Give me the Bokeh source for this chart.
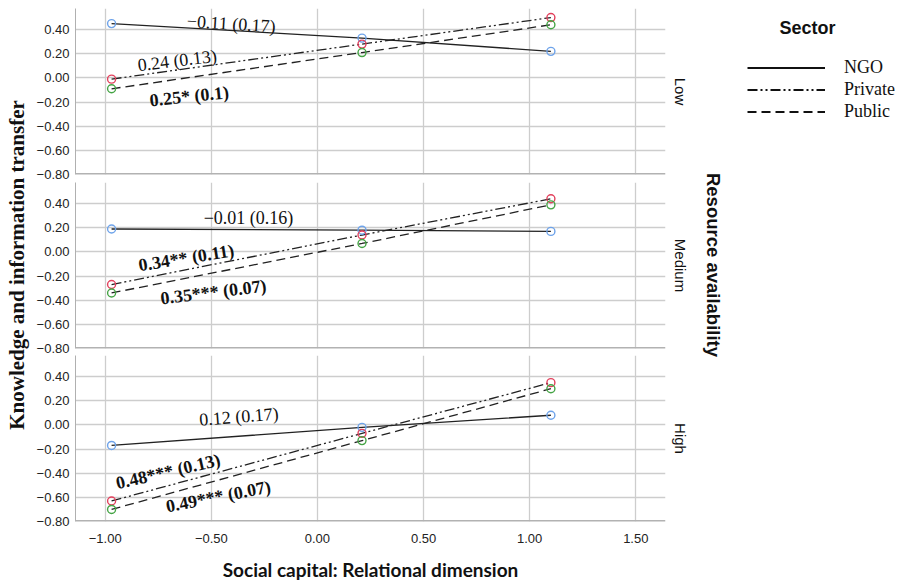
import math
from bokeh.plotting import figure
from bokeh.layouts import row, column
from bokeh.models import (Range1d, FixedTicker, CustomJSTickFormatter, Label, Span,
                          Legend, LegendItem)
from bokeh.embed import file_html
from bokeh.resources import INLINE

# ---------------- data ----------------
x_levels = [-0.97, 0.21, 1.10]          # relational dimension (low / mean / high)
sectors = ["NGO", "Private", "Public"]
panels = ["Low", "Medium", "High"]        # resource availability

ngo_low = [0.45, 0.33, 0.22]
private_low = [-0.01, 0.28, 0.50]
public_low = [-0.09, 0.21, 0.44]

ngo_medium = [0.19, 0.18, 0.17]
private_medium = [-0.27, 0.14, 0.44]
public_medium = [-0.34, 0.07, 0.39]

ngo_high = [-0.17, -0.02, 0.08]
private_high = [-0.63, -0.07, 0.35]
public_high = [-0.70, -0.13, 0.30]

slopes_low = ["\u22120.11 (0.17)", "0.24 (0.13)", "0.25* (0.1)"]
slopes_medium = ["\u22120.01 (0.16)", "0.34** (0.11)", "0.35*** (0.07)"]
slopes_high = ["0.12 (0.17)", "0.48*** (0.13)", "0.49*** (0.07)"]

x_ticks = [-1.0, -0.5, 0.0, 0.5, 1.0, 1.5]
y_ticks = [-0.8, -0.6, -0.4, -0.2, 0.0, 0.2, 0.4]

x_title = "Social capital: Relational dimension"
y_title = "Knowledge and information transfer"
facet_title = "Resource availability"
legend_title = "Sector"

values = {
    "Low": {"NGO": ngo_low, "Private": private_low, "Public": public_low},
    "Medium": {"NGO": ngo_medium, "Private": private_medium, "Public": public_medium},
    "High": {"NGO": ngo_high, "Private": private_high, "Public": public_high},
}
slope_texts = {"Low": slopes_low, "Medium": slopes_medium, "High": slopes_high}

# ---------------- layout / style ----------------
X_MIN, X_MAX = -1.14, 1.64
Y_MIN, Y_MAX = -0.80, 0.575
FRAME_W = 590
FRAME_H = 166
TOP = 8
BOTTOM = [8, 7, 62]
LEFT_B, RIGHT_B = 43, 5
LEFT_STRIP_W, RIGHT_STRIP_W = 32, 227
TOTAL_H = TOP + 3 * FRAME_H + sum(BOTTOM)

style = {
    "NGO": dict(dash="solid", color="#6ea3ea"),
    "Private": dict(dash="10 3 2 3 2 3", color="#e2405c"),
    "Public": dict(dash="9 5", color="#45a445"),
}
# annotation placement (x, y, angle in degrees, bold)
annot_pos = {
    "Low": [(-0.406, 0.448, -3.5, False), (-0.661, 0.144, 7, False), (-0.604, -0.152, 6, True)],
    "Medium": [(-0.325, 0.282, 0, False), (-0.618, -0.049, 9, True), (-0.490, -0.332, 7, True)],
    "High": [(-0.370, 0.069, 4.5, False), (-0.704, -0.386, 13, True), (-0.467, -0.593, 11, True)],
}

SERIF = "Liberation Serif"
SANS = "Liberation Sans"
GRID = "#cdcdcd"

fmt = CustomJSTickFormatter(code="""
const s = Math.abs(tick).toFixed(2);
return (tick < -1e-9 ? "\\u2212" : "") + s;
""")

x_range = Range1d(X_MIN, X_MAX)
figs = []
for i, pname in enumerate(panels):
    last = (i == len(panels) - 1)
    p = figure(frame_width=FRAME_W, frame_height=FRAME_H,
               x_range=x_range, y_range=Range1d(Y_MIN, Y_MAX),
               min_border_left=LEFT_B, min_border_right=RIGHT_B,
               min_border_top=TOP if i == 0 else 0, min_border_bottom=BOTTOM[i],
               x_axis_location="below" if last else None,
               toolbar_location=None, output_backend="svg")
    p.outline_line_color = None
    p.background_fill_color = "white"

    # axes
    yax = p.yaxis[0]
    yax.ticker = FixedTicker(ticks=y_ticks)
    yax.formatter = fmt
    yax.major_tick_out = 0
    yax.major_tick_in = 0
    yax.minor_tick_out = 0
    yax.minor_tick_in = 0
    yax.axis_line_color = "#b0b0b0"
    yax.major_label_standoff = 6
    yax.major_label_text_font = SANS
    yax.major_label_text_font_size = "13px"
    yax.major_label_text_color = "#222222"
    p.ygrid.ticker = FixedTicker(ticks=y_ticks)
    p.xgrid.ticker = FixedTicker(ticks=x_ticks)
    for g in (p.xgrid, p.ygrid):
        g.grid_line_color = GRID
        g.grid_line_width = 1.3

    if last:
        xax = p.xaxis[0]
        xax.ticker = FixedTicker(ticks=x_ticks)
        xax.formatter = fmt
        xax.major_tick_out = 0
        xax.major_tick_in = 0
        xax.minor_tick_out = 0
        xax.minor_tick_in = 0
        xax.axis_line_color = None
        xax.major_label_standoff = 12
        xax.major_label_text_font = SANS
        xax.major_label_text_font_size = "13px"
        xax.major_label_text_color = "#222222"
        xax.axis_label = x_title
        xax.axis_label_text_font = "Lato"
        xax.axis_label_text_font_style = "bold"
        xax.axis_label_text_font_size = "19px"
        xax.axis_label_text_color = "#111111"
        xax.axis_label_standoff = 12

    p.add_layout(Span(location=Y_MIN, dimension="width", line_color="#b2b2b2", line_width=3))

    for s in sectors:
        st = style[s]
        p.line(x_levels, values[pname][s], line_color="#222222", line_width=1.3,
               line_dash=st["dash"])
    for s in sectors:
        st = style[s]
        p.scatter(x_levels, values[pname][s], marker="circle", size=8,
                  fill_color=None, line_color=st["color"], line_width=1.4)

    for txt, (ax, ay, ang, bold) in zip(slope_texts[pname], annot_pos[pname]):
        p.add_layout(Label(x=ax, y=ay, text=txt, angle=ang, angle_units="deg",
                           text_font=SERIF, text_font_size="18px",
                           text_font_style="bold" if bold else "normal",
                           text_color="#111111", text_align="center",
                           text_baseline="middle"))
    figs.append(p)


def strip(width):
    s = figure(width=width, height=TOTAL_H, x_range=Range1d(0, width),
               y_range=Range1d(0, TOTAL_H), min_border=0,
               x_axis_location=None, y_axis_location=None,
               toolbar_location=None, output_backend="svg")
    s.outline_line_color = None
    s.grid.visible = False
    return s


# panel centres measured from the top of the layout
panel_center_from_top = [TOP + FRAME_H / 2 + i * FRAME_H + sum(BOTTOM[:i]) for i in range(3)]
mid_from_top = (panel_center_from_top[0] + panel_center_from_top[2]) / 2

# left strip: y-axis title
left = strip(LEFT_STRIP_W)
left.add_layout(Label(x=16, y=TOTAL_H - mid_from_top, text=y_title, angle=math.pi / 2,
                      text_font=SERIF, text_font_style="bold", text_font_size="21px",
                      text_color="#111111", text_align="center", text_baseline="middle"))

# right strip: facet labels, facet title, legend
right = strip(RIGHT_STRIP_W)
for pname, c in zip(panels, panel_center_from_top):
    right.add_layout(Label(x=10, y=TOTAL_H - c, text=pname, angle=-math.pi / 2,
                           text_font=SANS, text_font_size="15px", text_color="#111111",
                           text_align="center", text_baseline="middle"))
right.add_layout(Label(x=43, y=TOTAL_H - mid_from_top, text=facet_title, angle=-math.pi / 2,
                       text_font=SANS, text_font_style="bold", text_font_size="18.5px",
                       text_color="#111111", text_align="center", text_baseline="middle"))
right.add_layout(Label(x=137, y=TOTAL_H - 27, text=legend_title,
                       text_font=SANS, text_font_style="bold", text_font_size="18px",
                       text_color="#111111", text_align="center", text_baseline="middle"))

right.extra_x_ranges = {"off": Range1d(100, 101)}
items = []
for s in sectors:
    r = right.line(x_levels, values["Low"][s], x_range_name="off", line_color="#111111",
                   line_width=2, line_dash=style[s]["dash"])
    items.append(LegendItem(label=s, renderers=[r]))
legend = Legend(items=items, location=(77, TOTAL_H - 57 - 65), glyph_width=78, glyph_height=21,
                label_height=21, spacing=1, label_standoff=19, padding=0, margin=0,
                border_line_color=None, background_fill_alpha=0,
                label_text_font=SERIF, label_text_font_size="18px",
                label_text_color="#111111")
right.add_layout(legend, "center")

layout = row(left, column(*figs), right)

open("out.html", "w").write(file_html(layout, INLINE))
